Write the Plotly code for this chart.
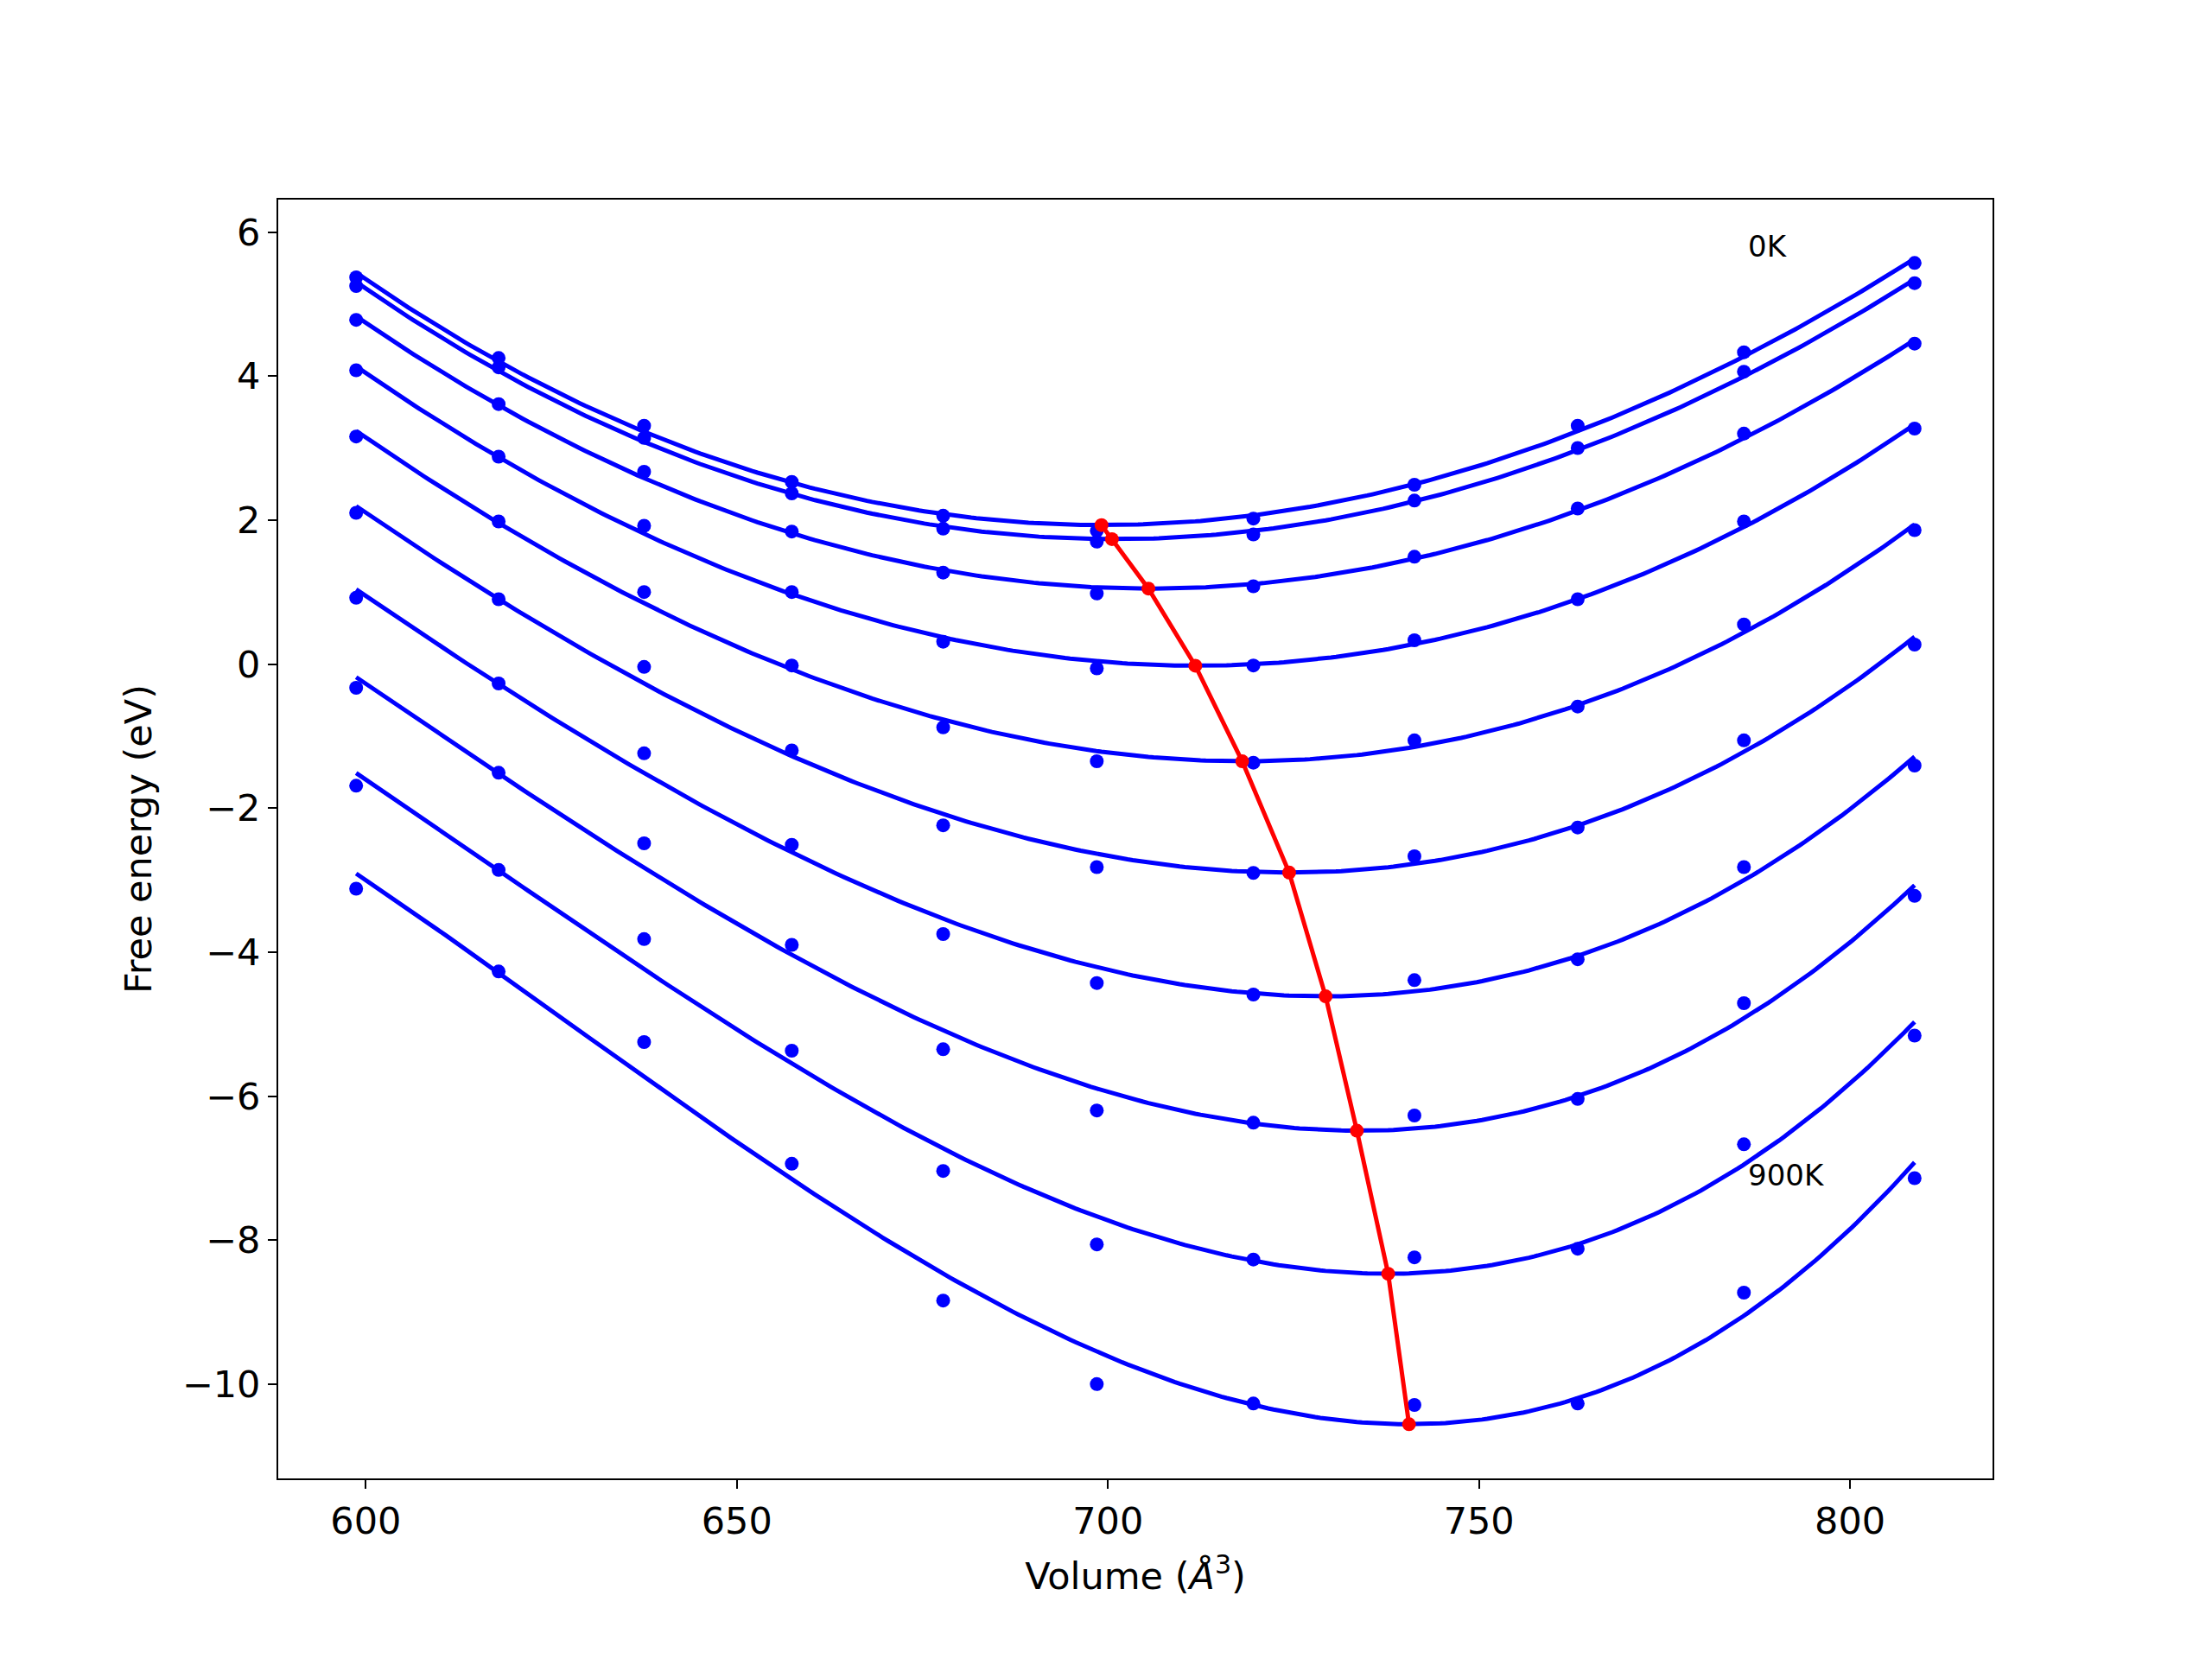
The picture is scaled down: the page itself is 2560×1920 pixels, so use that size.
import numpy as np
import plotly.graph_objects as go

volumes = [598.7, 617.9, 637.5, 657.4, 677.8, 698.5, 719.6, 741.3, 763.3, 785.7, 808.7]
temperatures = [0, 100, 200, 300, 400, 500, 600, 700, 800, 900]
energies = [
    [5.37, 4.25, 3.31, 2.53, 2.06, 1.85, 2.02, 2.49, 3.31, 4.33, 5.57],
    [5.25, 4.12, 3.14, 2.37, 1.88, 1.70, 1.80, 2.27, 3.00, 4.06, 5.29],
    [4.78, 3.61, 2.67, 1.84, 1.27, 0.98, 1.08, 1.49, 2.16, 3.20, 4.45],
    [4.08, 2.88, 1.92, 1.00, 0.31, -0.06, -0.02, 0.33, 0.90, 1.98, 3.27],
    [3.16, 1.98, 1.00, -0.02, -0.88, -1.35, -1.37, -1.06, -0.59, 0.55, 1.86],
    [2.10, 0.90, -0.04, -1.20, -2.24, -2.82, -2.90, -2.67, -2.27, -1.06, 0.27],
    [0.92, -0.27, -1.24, -2.51, -3.75, -4.43, -4.59, -4.39, -4.10, -2.82, -1.41],
    [-0.33, -1.51, -2.49, -3.90, -5.35, -6.20, -6.37, -6.27, -6.04, -4.71, -3.22],
    [-1.69, -2.86, -3.82, -5.37, -7.04, -8.06, -8.27, -8.24, -8.12, -6.67, -5.16],
    [-3.12, -4.27, -5.25, -6.94, -8.84, -10.00, -10.27, -10.29, -10.27, -8.73, -7.14],
]

fig = go.Figure()
vfine = np.linspace(min(volumes), max(volumes), 300)
vmins, emins = [], []
for e in energies:
    p = np.polyfit(volumes, e, 3)
    ef = np.polyval(p, vfine)
    fig.add_trace(go.Scatter(x=vfine, y=ef, mode="lines", line=dict(color="#0000ff", width=5), showlegend=False))
    fig.add_trace(go.Scatter(x=volumes, y=e, mode="markers", marker=dict(color="#0000ff", size=16), showlegend=False))
    i = int(np.argmin(ef))
    vmins.append(vfine[i]); emins.append(ef[i])
fig.add_trace(go.Scatter(x=vmins, y=emins, mode="lines+markers", line=dict(color="#ff0000", width=5),
                         marker=dict(color="#ff0000", size=16), showlegend=False))

fig.add_annotation(x=786, y=5.8, text="0K", showarrow=False, xanchor="left", font=dict(size=34, color="black"))
fig.add_annotation(x=786, y=-7.1, text="900K", showarrow=False, xanchor="left", font=dict(size=34, color="black"))

axcommon = dict(showgrid=False, zeroline=False, showline=True, linecolor="black", linewidth=2, mirror=True,
                ticks="outside", ticklen=10, tickwidth=2, tickcolor="black", tickfont=dict(size=43, color="black"))
fig.update_xaxes(range=[588.2, 819.2], tickvals=[600, 650, 700, 750, 800],
                 title=dict(text="Volume (<i>Å</i><sup>3</sup>)", font=dict(size=43, color="black"), standoff=25), **axcommon)
fig.update_yaxes(range=[-11.31, 6.45], tickvals=[6, 4, 2, 0, -2, -4, -6, -8, -10],
                 ticktext=["6", "4", "2", "0", "−2", "−4", "−6", "−8", "−10"],
                 title=dict(text="Free energy (eV)", font=dict(size=43, color="black"), standoff=22), **axcommon)
fig.update_layout(width=2560, height=1920, paper_bgcolor="white", plot_bgcolor="white",
                  font=dict(family="DejaVu Sans"),
                  margin=dict(l=314, r=262, t=223, b=217))
fig.write_html("out.html")
